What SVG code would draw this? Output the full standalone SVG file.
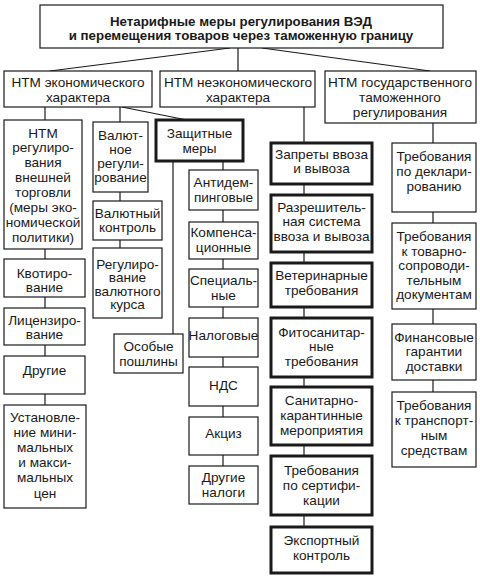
<svg xmlns="http://www.w3.org/2000/svg" width="480" height="577" viewBox="0 0 480 577">
<style>
.b{fill:#fff;stroke:#1a1a1a;stroke-width:1.2}
.bb{fill:#fff;stroke:#1a1a1a;stroke-width:3}
text{font-family:"Liberation Sans",Arial,sans-serif;font-size:13.6px;fill:#1a1a1a;text-anchor:middle}
.t{font-weight:bold;font-size:13.3px}
#connectors line{stroke:#1a1a1a;stroke-width:1.2}
</style>
<rect width="480" height="577" fill="#fff"/>
<g id="connectors">
<line x1="230" y1="48" x2="50" y2="71"/>
<line x1="238" y1="48" x2="238" y2="71"/>
<line x1="262" y1="48" x2="430" y2="71"/>
<line x1="45" y1="107" x2="45" y2="120"/>
<line x1="45" y1="249" x2="45" y2="259"/>
<line x1="45" y1="297" x2="45" y2="308"/>
<line x1="45" y1="345" x2="45" y2="356"/>
<line x1="45" y1="394" x2="45" y2="405"/>
<line x1="120" y1="107" x2="120" y2="122"/>
<line x1="120" y1="192" x2="120" y2="201"/>
<line x1="120" y1="240" x2="120" y2="248"/>
<line x1="122" y1="107" x2="187" y2="120"/>
<line x1="173" y1="161" x2="173" y2="334"/>
<line x1="223" y1="161" x2="223" y2="170"/>
<line x1="223" y1="210" x2="223" y2="222"/>
<line x1="223" y1="259" x2="223" y2="269"/>
<line x1="223" y1="307" x2="223" y2="318"/>
<line x1="223" y1="357" x2="223" y2="367"/>
<line x1="223" y1="406" x2="223" y2="417"/>
<line x1="223" y1="455" x2="223" y2="466"/>
<line x1="304" y1="107" x2="304" y2="143"/>
<line x1="304" y1="184" x2="304" y2="195"/>
<line x1="304" y1="252" x2="304" y2="263"/>
<line x1="304" y1="307" x2="304" y2="318"/>
<line x1="304" y1="377" x2="304" y2="387"/>
<line x1="304" y1="445" x2="304" y2="456"/>
<line x1="304" y1="515" x2="304" y2="527"/>
<line x1="433" y1="123" x2="433" y2="143"/>
<line x1="433" y1="212" x2="433" y2="223"/>
<line x1="433" y1="309" x2="433" y2="324"/>
<line x1="433" y1="380" x2="433" y2="392"/>
</g>
<g id="root"><rect class="b" x="40" y="5" width="403" height="43"/><text class="t" x="241" y="26">Нетарифные меры регулирования ВЭД</text><text class="t" x="241" y="40">и перемещения товаров через таможенную границу</text></g>
<g id="econ"><rect class="b" x="4" y="71" width="148" height="36"/><text x="78" y="86.5">НТМ экономического</text><text x="78" y="101.5">характера</text></g>
<g id="nonecon"><rect class="b" x="160" y="71" width="155" height="36"/><text x="238" y="86.5">НТМ неэкономического</text><text x="238" y="101.5">характера</text></g>
<g id="state"><rect class="b" x="325" y="71" width="151" height="52"/><text x="400" y="86.5">НТМ государственного</text><text x="400" y="101.5">таможенного</text><text x="400" y="116.5">регулирования</text></g>
<g id="a1"><rect class="b" x="4" y="120" width="78" height="129"/><text x="43" y="137.5">НТМ</text><text x="43" y="152.4">регулиро-</text><text x="43" y="167.3">вания</text><text x="43" y="182.2">внешней</text><text x="43" y="197.1">торговли</text><text x="43" y="212">(меры эко-</text><text x="43" y="226.9">номической</text><text x="43" y="241.8">политики)</text></g>
<g id="a2"><rect class="b" x="4" y="259" width="81" height="38"/><text x="44.5" y="277.5">Квотиро-</text><text x="44.5" y="291.5">вание</text></g>
<g id="a3"><rect class="b" x="4" y="308" width="81" height="37"/><text x="44.5" y="324.5">Лицензиро-</text><text x="44.5" y="338.5">вание</text></g>
<g id="a4"><rect class="b" x="4" y="356" width="81" height="38"/><text x="44.5" y="374.5">Другие</text></g>
<g id="a5"><rect class="b" x="4" y="405" width="82" height="103"/><text x="45" y="421.5">Установле-</text><text x="45" y="436.7">ние мини-</text><text x="45" y="451.9">мальных</text><text x="45" y="467.1">и макси-</text><text x="45" y="482.3">мальных</text><text x="45" y="497.5">цен</text></g>
<g id="b1"><rect class="b" x="93" y="122" width="55" height="70"/><text x="120.5" y="139.5">Валют-</text><text x="120.5" y="153.5">ное</text><text x="120.5" y="167.5">регули-</text><text x="120.5" y="182">рование</text></g>
<g id="b2"><rect class="b" x="93" y="201" width="69" height="39"/><text x="127.5" y="217.5">Валютный</text><text x="127.5" y="231.5">контроль</text></g>
<g id="b3"><rect class="b" x="93" y="248" width="69" height="70"/><text x="127.5" y="268.5">Регулиро-</text><text x="127.5" y="282">вание</text><text x="127.5" y="295.5">валютного</text><text x="127.5" y="309">курса</text></g>
<g id="b4"><rect class="b" x="114" y="334" width="69" height="39"/><text x="148.5" y="350.5">Особые</text><text x="148.5" y="366">пошлины</text></g>
<g id="prot"><rect class="bb" x="156" y="120" width="87" height="41"/><text x="199.5" y="137.5">Защитные</text><text x="199.5" y="152.5">меры</text></g>
<g id="c1"><rect class="b" x="189" y="170" width="69" height="40"/><text x="223.5" y="186.5">Антидем-</text><text x="223.5" y="202">пинговые</text></g>
<g id="c2"><rect class="b" x="189" y="222" width="69" height="37"/><text x="223.5" y="236.5">Компенса-</text><text x="223.5" y="251.5">ционные</text></g>
<g id="c3"><rect class="b" x="189" y="269" width="69" height="38"/><text x="223.5" y="284.5">Специаль-</text><text x="223.5" y="299.5">ные</text></g>
<g id="c4"><rect class="b" x="189" y="318" width="69" height="39"/><text x="223.5" y="339.5">Налоговые</text></g>
<g id="c5"><rect class="b" x="189" y="367" width="69" height="39"/><text x="223.5" y="389.5">НДС</text></g>
<g id="c6"><rect class="b" x="189" y="417" width="69" height="38"/><text x="223.5" y="437.5">Акциз</text></g>
<g id="c7"><rect class="b" x="189" y="466" width="69" height="38"/><text x="223.5" y="481.5">Другие</text><text x="223.5" y="496.5">налоги</text></g>
<g id="d1"><rect class="bb" x="271" y="143" width="101" height="41"/><text x="321.5" y="159">Запреты ввоза</text><text x="321.5" y="173">и вывоза</text></g>
<g id="d2"><rect class="bb" x="271" y="195" width="101" height="57"/><text x="321.5" y="211.5">Разрешитель-</text><text x="321.5" y="226">ная система</text><text x="321.5" y="240.5">ввоза и вывоза</text></g>
<g id="d3"><rect class="bb" x="271" y="263" width="101" height="44"/><text x="321.5" y="279.5">Ветеринарные</text><text x="321.5" y="294.5">требования</text></g>
<g id="d4"><rect class="bb" x="271" y="318" width="101" height="59"/><text x="321.5" y="336.5">Фитосанитар-</text><text x="321.5" y="351">ные</text><text x="321.5" y="365.5">требования</text></g>
<g id="d5"><rect class="bb" x="271" y="387" width="101" height="58"/><text x="321.5" y="404.5">Санитарно-</text><text x="321.5" y="419.5">карантинные</text><text x="321.5" y="434.5">мероприятия</text></g>
<g id="d6"><rect class="bb" x="271" y="456" width="101" height="59"/><text x="321.5" y="474.5">Требования</text><text x="321.5" y="489.5">по сертифи-</text><text x="321.5" y="504.5">кации</text></g>
<g id="d7"><rect class="bb" x="271" y="527" width="101" height="46"/><text x="321.5" y="544.5">Экспортный</text><text x="321.5" y="560">контроль</text></g>
<g id="e1"><rect class="b" x="392" y="143" width="84" height="69"/><text x="434" y="160.5">Требования</text><text x="434" y="175.5">по деклари-</text><text x="434" y="190.5">рованию</text></g>
<g id="e2"><rect class="b" x="392" y="223" width="84" height="86"/><text x="434" y="241">Требования</text><text x="434" y="255.5">к товарно-</text><text x="434" y="270">сопроводи-</text><text x="434" y="284.5">тельным</text><text x="434" y="299">документам</text></g>
<g id="e3"><rect class="b" x="392" y="324" width="84" height="56"/><text x="434" y="341.5">Финансовые</text><text x="434" y="356">гарантии</text><text x="434" y="370.5">доставки</text></g>
<g id="e4"><rect class="b" x="392" y="392" width="84" height="75"/><text x="434" y="409.5">Требования</text><text x="434" y="424.5">к транспорт-</text><text x="434" y="439.5">ным</text><text x="434" y="454.5">средствам</text></g>
</svg>
